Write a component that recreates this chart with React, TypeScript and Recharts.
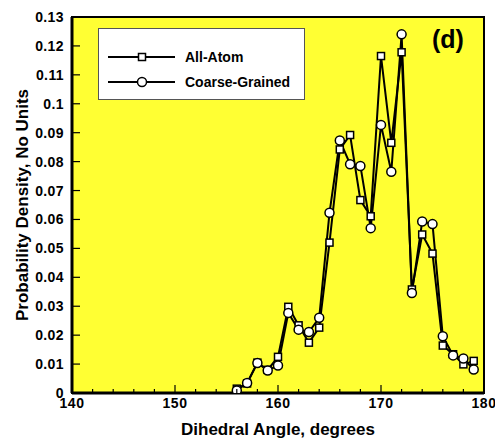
import React from "react";
import {
  LineChart,
  Line,
  XAxis,
  YAxis,
  CartesianGrid,
  ReferenceArea,
  Legend,
  Label,
} from "recharts";

// Dihedral angle bins (degrees)
const angles = [
  156, 157, 158, 159, 160, 161, 162, 163, 164, 165, 166, 167,
  168, 169, 170, 171, 172, 173, 174, 175, 176, 177, 178, 179,
];

// Probability density per bin
const allAtom = [
  0.0015, 0.0033, 0.0105, 0.008, 0.0125, 0.0298, 0.0234, 0.0174,
  0.0226, 0.052, 0.0842, 0.0892, 0.0667, 0.0611, 0.1165, 0.0865,
  0.1178, 0.0358, 0.0548, 0.0482, 0.0164, 0.0134, 0.0099, 0.0111,
];
const coarseGrained = [
  0.0009, 0.0035, 0.0104, 0.0078, 0.0095, 0.0277, 0.0219, 0.0211,
  0.026, 0.0623, 0.0873, 0.0791, 0.0785, 0.057, 0.0927, 0.0765,
  0.124, 0.0346, 0.0593, 0.0584, 0.0196, 0.013, 0.0119, 0.0081,
];

const xTicks = [
  140, 142, 144, 146, 148, 150, 152, 154, 156, 158, 160, 162, 164, 166,
  168, 170, 172, 174, 176, 178, 180,
];
const yTicks = [
  0, 0.01, 0.02, 0.03, 0.04, 0.05, 0.06, 0.07, 0.08, 0.09, 0.1, 0.11, 0.12,
  0.13,
];

const seriesNames = ["All-Atom", "Coarse-Grained"];

const data = angles.map((a, i) => ({
  angle: a,
  aa: allAtom[i],
  cg: coarseGrained[i],
}));

const FONT = "'Liberation Sans', Arial, sans-serif";
const PLOT_BG = "#FFFF33";

const SquareDot = (props: any) => {
  const { cx, cy, index } = props;
  if (cx == null || cy == null) return <g key={`s${index}`} />;
  return (
    <rect
      key={`s${index}`}
      x={cx - 3.5}
      y={cy - 3.5}
      width={7}
      height={7}
      fill="#fff"
      stroke="#000"
      strokeWidth={1.5}
    />
  );
};

const CircleDot = (props: any) => {
  const { cx, cy, index } = props;
  if (cx == null || cy == null) return <g key={`c${index}`} />;
  return (
    <circle
      key={`c${index}`}
      cx={cx}
      cy={cy}
      r={4.5}
      fill="#fff"
      stroke="#000"
      strokeWidth={1.5}
    />
  );
};

// Bottom axis: inward tick marks, labels only every 10 degrees
const XTick = (props: any) => {
  const { x, y, payload } = props;
  const v = payload.value as number;
  const major = v % 10 === 0;
  return (
    <g>
      <line x1={x} x2={x} y1={y} y2={y - (major ? 8 : 4)} stroke="#000" strokeWidth={1.2} />
      {major && (
        <text
          x={x}
          y={y + 15}
          textAnchor="middle"
          fontFamily={FONT}
          fontWeight="bold"
          fontSize={14}
          letterSpacing={0.6}
          fill="#000"
        >
          {v}
        </text>
      )}
    </g>
  );
};

// Left axis: inward tick marks with right-aligned labels
const YTick = (props: any) => {
  const { x, y, payload } = props;
  const v = payload.value as number;
  return (
    <g>
      <line x1={x} x2={x + 8} y1={y} y2={y} stroke="#000" strokeWidth={1.2} />
      <text
        x={x - 8}
        y={y + 5}
        textAnchor="end"
        fontFamily={FONT}
        fontWeight="bold"
        fontSize={14}
        letterSpacing={0.4}
        fill="#000"
      >
        {Number(v.toFixed(2)).toString()}
      </text>
    </g>
  );
};

const YTitle = (props: any) => {
  const { viewBox } = props;
  const cx = viewBox.x + 22;
  const cy = viewBox.y + viewBox.height / 2;
  return (
    <text
      x={cx}
      y={cy}
      transform={`rotate(-90, ${cx}, ${cy})`}
      textAnchor="middle"
      dominantBaseline="central"
      fontFamily={FONT}
      fontWeight="bold"
      fontSize={17}
      fill="#000"
    >
      Probability Density, No Units
    </text>
  );
};

const LegendBox = (props: any) => {
  const payload = props.payload || [];
  return (
    <div
      style={{
        width: 207,
        height: 72,
        boxSizing: "border-box",
        background: "#fff",
        border: "1px solid #555",
      }}
    >
      <svg width={205} height={70} style={{ display: "block" }}>
        {payload.map((p: any, i: number) => {
          const cy = 28 + i * 25;
          return (
            <g key={p.value}>
              <line x1={9} x2={76} y1={cy} y2={cy} stroke="#000" strokeWidth={2} />
              {i === 0 ? (
                <rect x={39.5} y={cy - 3.5} width={7} height={7} fill="#fff" stroke="#000" strokeWidth={1.5} />
              ) : (
                <circle cx={43} cy={cy} r={4.5} fill="#fff" stroke="#000" strokeWidth={1.5} />
              )}
              <text
                x={86}
                y={cy + 5}
                fontFamily={FONT}
                fontWeight="bold"
                fontSize={14}
                fill="#000"
              >
                {p.value}
              </text>
            </g>
          );
        })}
      </svg>
    </div>
  );
};

export default function App() {
  return (
    <div style={{ position: "absolute", left: 0, top: 0, width: 495, height: 439, background: "#fff" }}>
      <LineChart
        width={495}
        height={439}
        data={data}
        margin={{ top: 17, right: 11, bottom: 0, left: 0 }}
      >
        <CartesianGrid horizontal={false} vertical={false} fill={PLOT_BG} />
        <XAxis
          dataKey="angle"
          type="number"
          domain={[140, 180]}
          ticks={xTicks}
          interval={0}
          height={46}
          tickSize={0}
          tickMargin={0}
          tickLine={false}
          tick={<XTick />}
          axisLine={{ stroke: "#000", strokeWidth: 3 }}
          allowDataOverflow
        >
          <Label
            value="Dihedral Angle, degrees"
            position="insideBottom"
            offset={4}
            style={{ fontFamily: FONT, fontWeight: "bold", fontSize: 17, fill: "#000" }}
          />
        </XAxis>
        <YAxis
          type="number"
          domain={[0, 0.13]}
          ticks={yTicks}
          interval={0}
          width={72}
          tickSize={0}
          tickMargin={0}
          tickLine={false}
          tick={<YTick />}
          axisLine={{ stroke: "#000", strokeWidth: 3 }}
          allowDataOverflow
        >
          <Label content={<YTitle />} />
        </YAxis>
        <ReferenceArea
          x1={140}
          x2={180}
          y1={0}
          y2={0.13}
          fill="none"
          stroke="#000"
          strokeWidth={2}
          ifOverflow="visible"
        />
        <Legend
          layout="vertical"
          align="center"
          verticalAlign="middle"
          content={<LegendBox />}
          wrapperStyle={{ left: 98, top: 28, width: 207, height: 72 }}
        />
        <Line
          type="linear"
          dataKey="aa"
          name={seriesNames[0]}
          stroke="#000"
          strokeWidth={2}
          dot={<SquareDot />}
          isAnimationActive={false}
        />
        <Line
          type="linear"
          dataKey="cg"
          name={seriesNames[1]}
          stroke="#000"
          strokeWidth={2}
          dot={<CircleDot />}
          isAnimationActive={false}
        />
      </LineChart>
      <div
        style={{
          position: "absolute",
          left: 432,
          top: 24,
          fontFamily: FONT,
          fontWeight: "bold",
          fontSize: 25,
          lineHeight: "30px",
          color: "#000",
        }}
      >
        (d)
      </div>
    </div>
  );
}
